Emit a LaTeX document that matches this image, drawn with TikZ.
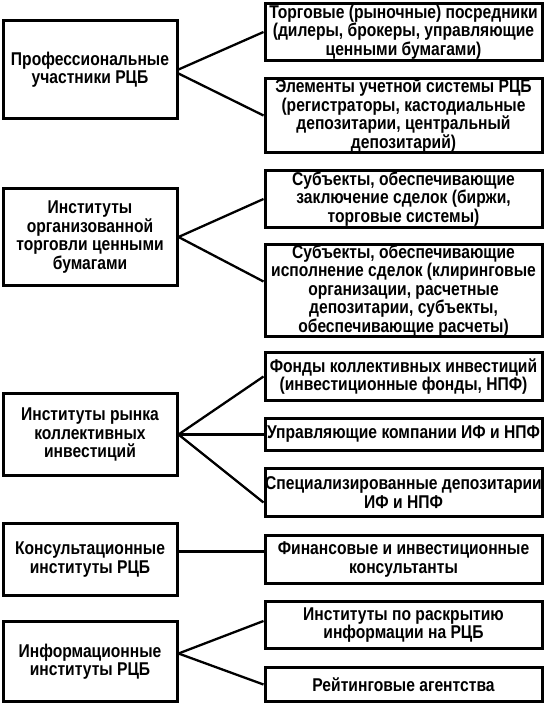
\documentclass[tikz,border=0pt]{standalone}
\usepackage{fontspec}
\setmainfont{Liberation Sans}[FakeStretch=0.845]
\usepackage{tikz}
\usetikzlibrary{positioning}
\tikzstyle{lbox} = [draw, 
line width=3pt, align=center, inner sep=0pt,
font=\bfseries\fontsize{18.5}{18.5}\selectfont,
minimum width=174pt]
\tikzstyle{rbox} = [draw, 
line width=3pt, align=center, inner sep=0pt,
font=\bfseries\fontsize{18.5}{18.5}\selectfont,
minimum width=277pt]
\tikzstyle{line} = [draw, 
line width=2.3pt, 
color=black]

\begin{document}
\begin{tikzpicture}[x=1pt, y=-1pt]
    \useasboundingbox (0,0) rectangle (546,704);
    %% Left column
    \node [lbox, minimum height=98pt] (L1) at (90,69.5) {Профессиональные\\участники РЦБ};
    \node [lbox, minimum height=97pt] (L2) at (90,237) {Институты\\организованной\\торговли ценными\\бумагами};
    \node [lbox, minimum height=82pt] (L3) at (90,434.5) {Институты рынка\\коллективных\\инвестиций};
    \node [lbox, minimum height=72pt] (L4) at (90,559.5) {Консультационные\\институты РЦБ};
    \node [lbox, minimum height=80pt] (L5) at (90,661.5) {Информационные\\институты РЦБ};
    %% Right column
    \node [rbox, minimum height=57pt] (R1) at (403.5,32) {Торговые (рыночные) посредники\\(дилеры, брокеры, управляющие\\ценными бумагами)};
    \node [rbox, minimum height=72pt] (R2) at (403.5,115.5) {Элементы учетной системы РЦБ\\(регистраторы, кастодиальные\\депозитарии, центральный\\депозитарий)};
    \node [rbox, minimum height=57pt] (R3) at (403.5,199) {Субъекты, обеспечивающие\\заключение сделок (биржи,\\торговые системы)};
    \node [rbox, minimum height=90pt] (R4) at (403.5,290.5) {Субъекты, обеспечивающие\\исполнение сделок (клиринговые\\организации, расчетные\\депозитарии, субъекты,\\обеспечивающие расчеты)};
    \node [rbox, minimum height=48pt] (R5) at (403.5,376.5) {Фонды коллективных инвестиций\\(инвестиционные фонды, НПФ)};
    \node [rbox, minimum height=32pt] (R6) at (403.5,434.5) {Управляющие компании ИФ и НПФ};
    \node [rbox, minimum height=48pt] (R7) at (403.5,492.5) {Специализированные депозитарии\\ИФ и НПФ};
    \node [rbox, minimum height=48pt] (R8) at (403.5,559.5) {Финансовые и инвестиционные\\консультанты};
    \node [rbox, minimum height=47pt] (R9) at (403.5,625) {Институты по раскрытию\\информации на РЦБ};
    \node [rbox, minimum height=34pt] (R10) at (403.5,684.5) {Рейтинговые агентства};
    %% Links
    \path [line] (L1.east) -- (R1.west);
    \path [line] ([yshift=-4pt]L1.east) -- (R2.west);
    \path [line] (L2.east) -- (R3.west);
    \path [line] (L2.east) -- ([yshift=9pt]R4.west);
    \path [line] (L3.east) -- (R5.west);
    \path [line] (L3.east) -- (R6.west);
    \path [line] (L3.east) -- ([yshift=-10pt]R7.west);
    \path [line] ([yshift=8pt]L4.east) -- ([yshift=8pt]R8.west);
    \path [line] ([yshift=8pt]L5.east) -- ([yshift=4pt]R9.west);
    \path [line] ([yshift=8pt]L5.east) -- (R10.west);
\end{tikzpicture}
\end{document}
